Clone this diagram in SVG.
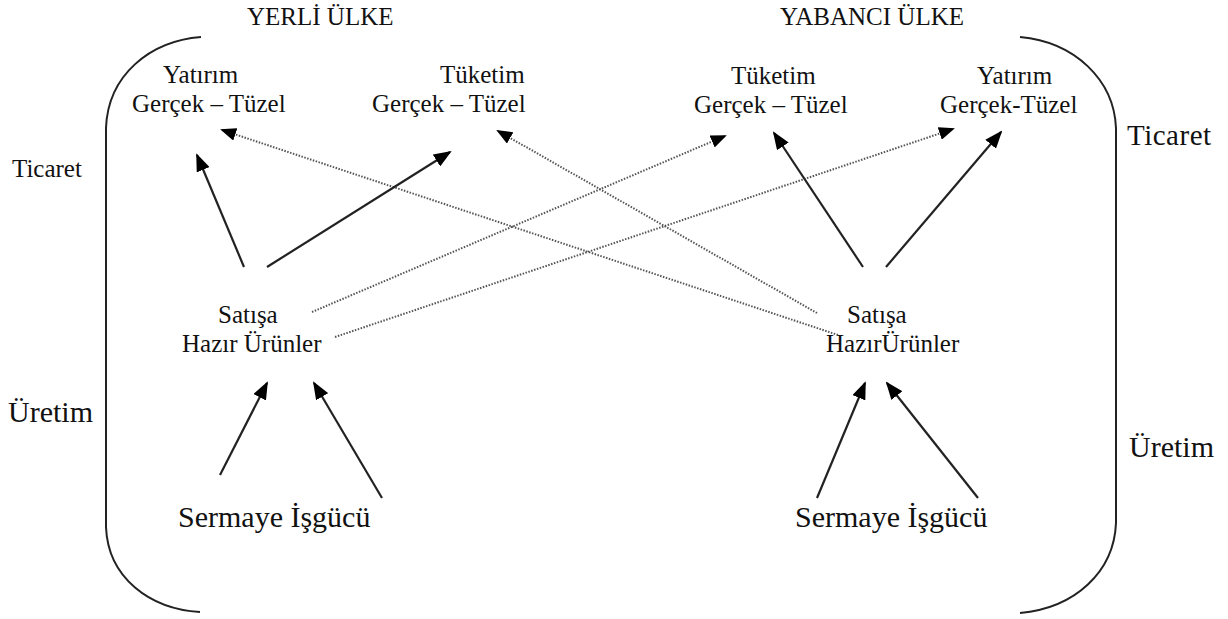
<svg xmlns="http://www.w3.org/2000/svg" width="1228" height="619" viewBox="0 0 1228 619">
<style>
text{font-family:"Liberation Serif","Times New Roman",serif;fill:#111;}
.t25{font-size:25px;}
.t30{font-size:30px;}
.solid{stroke:#222;stroke-width:2.2;fill:none;}
.dot{stroke:#555;stroke-width:2;stroke-dasharray:1.5 1.5;fill:none;}
.br{stroke:#222;stroke-width:2;fill:none;}
</style>
<defs>
<marker id="ah" markerUnits="userSpaceOnUse" markerWidth="18" markerHeight="14" viewBox="0 0 18 14" refX="16" refY="7" orient="auto">
<path d="M0,0 L18,7 L0,14 z" fill="#000"/>
</marker>
<marker id="ahd" markerUnits="userSpaceOnUse" markerWidth="16" markerHeight="13" viewBox="0 0 16 13" refX="14" refY="6.5" orient="auto">
<path d="M0,0 L16,6.5 L0,13 z" fill="#000"/>
</marker>
</defs>
<rect width="1228" height="619" fill="#fff"/>
<g id="brackets">
<path class="br" d="M201,37 C150,41 108,75 106,128 L106,527 C108,578 150,609 200,612"/>
<path class="br" d="M1020,37 C1075,42 1114,80 1116,128 L1116,523 C1114,572 1075,608 1020,613"/>
</g>
<g id="titles">
<text class="t25" x="247" y="25">YERLİ ÜLKE</text>
<text class="t25" x="780" y="25">YABANCI ÜLKE</text>
</g>
<g id="side-labels">
<text class="t25" x="12" y="177">Ticaret</text>
<text x="1127" y="145" style="font-size:29px" letter-spacing="0.5">Ticaret</text>
<text class="t30" x="8" y="422">Üretim</text>
<text class="t30" x="1129" y="457">Üretim</text>
</g>
<g id="yerli-yatirim">
<text class="t25" x="163" y="83">Yatırım</text>
<text class="t25" x="132" y="112">Gerçek – Tüzel</text>
</g>
<g id="yerli-tuketim">
<text class="t25" x="440" y="83">Tüketim</text>
<text class="t25" x="372" y="112">Gerçek – Tüzel</text>
</g>
<g id="yabanci-tuketim">
<text class="t25" x="731" y="84">Tüketim</text>
<text class="t25" x="694" y="113">Gerçek – Tüzel</text>
</g>
<g id="yabanci-yatirim">
<text class="t25" x="977" y="84">Yatırım</text>
<text class="t25" x="940" y="113">Gerçek-Tüzel</text>
</g>
<g id="yerli-satisa">
<text class="t25" x="218" y="323">Satışa</text>
<text class="t25" x="182" y="352">Hazır Ürünler</text>
</g>
<g id="yabanci-satisa">
<text class="t25" x="847" y="323">Satışa</text>
<text class="t25" x="826" y="352">HazırÜrünler</text>
</g>
<g id="yerli-uretim">
<text class="t30" x="178" y="527">Sermaye İşgücü</text>
</g>
<g id="yabanci-uretim">
<text class="t30" x="795" y="527">Sermaye İşgücü</text>
</g>
<g id="connectors">
<line class="dot" x1="312" y1="312" x2="725" y2="136" marker-end="url(#ahd)"/>
<line class="dot" x1="335" y1="337" x2="953" y2="129" marker-end="url(#ahd)"/>
<line class="dot" x1="838" y1="335" x2="222" y2="130" marker-end="url(#ahd)"/>
<line class="dot" x1="817" y1="313" x2="498" y2="131" marker-end="url(#ahd)"/>
<line class="solid" x1="244" y1="267" x2="197" y2="155" marker-end="url(#ah)"/>
<line class="solid" x1="267" y1="267" x2="450" y2="152" marker-end="url(#ah)"/>
<line class="solid" x1="863" y1="267" x2="774" y2="133" marker-end="url(#ah)"/>
<line class="solid" x1="886" y1="267" x2="1001" y2="132" marker-end="url(#ah)"/>
<line class="solid" x1="220" y1="475" x2="267" y2="383" marker-end="url(#ah)"/>
<line class="solid" x1="382" y1="498" x2="314" y2="383" marker-end="url(#ah)"/>
<line class="solid" x1="817" y1="498" x2="865" y2="383" marker-end="url(#ah)"/>
<line class="solid" x1="978" y1="498" x2="887" y2="383" marker-end="url(#ah)"/>
</g>
</svg>
